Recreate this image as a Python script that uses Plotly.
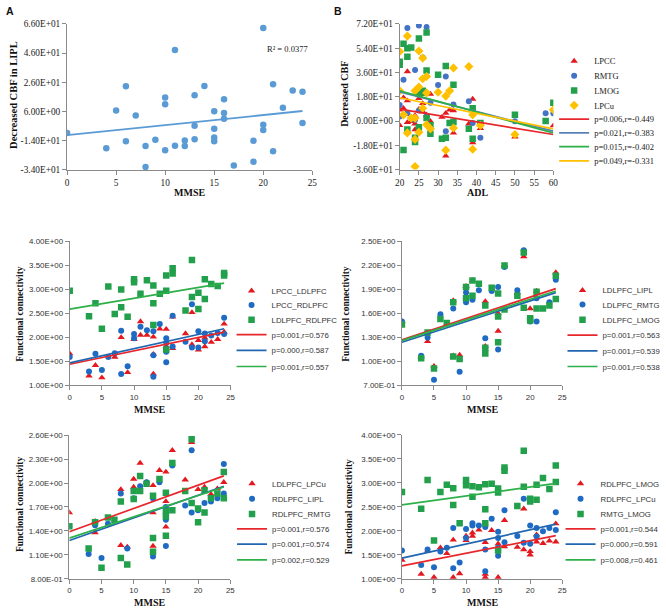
import plotly.graph_objects as go

SERIF = "Liberation Serif, Times New Roman, serif"
SANS = "Liberation Sans, Arial, sans-serif"

# ---------------- Panel A : Decreased CBF in LIPL vs MMSE ----------------
A_x = [0, 4, 5, 6, 6, 7, 8, 8, 9, 10, 10, 10, 11, 11, 12, 12, 13, 13, 13, 14,
       15, 15, 15, 15, 16, 16, 16, 17, 19, 19, 20, 20, 20, 21, 21, 22, 23, 24, 24]
A_y = [-8.6, -19.2, 6.7, 23.3, -14.4, 3.3, -17.6, -32, -13.3, 15.7, 11, -20.5, 48.2, -17.4,
       -13.8, -17.6, 17.2, -3.7, -12.9, 23.5, 6.2, -5.7, -11.8, -14.4, 14.5, 5.1, 1.1, -31,
       -28.4, -14, 63.3, -3, -6.6, 24.7, -21.2, 8.7, 20.4, 19.5, -1.9]
A_fit = (-10.2, 6.4)          # trend-line value at the first and last x
A_r2 = "R² = 0.0377"

# ---------------- Panel B : Decreased CBF vs ADL ----------------
B_names = ["LPCC", "RMTG", "LMOG", "LPCu"]
B_x_LPCC = [20, 20, 21, 21, 22, 22, 22, 23, 24, 24, 24, 25, 25, 26, 26, 27, 28, 28, 31, 32,
            32, 33, 34, 34, 38, 39, 39, 41, 50, 60]
B_y_LPCC = [8.3, -3.2, 17.3, 9.5, 36.7, 15.1, -1, -0.2, 4.1, -2, -6.3, 16.8, 8.8, 7, 13.1, 4.6,
            20, -0.2, 2.9, 5.8, -25.8, 8.3, 7.8, -8.8, -2, 16.3, -16, -5.4, -11.7, -3.4]
B_x_RMTG = [20, 20, 21, 22, 22, 24, 24, 25, 25, 26, 27, 27, 28, 30, 32, 32, 34, 38, 39, 41,
            50, 58, 60]
B_y_RMTG = [12, 3.4, 30.6, 69.1, 5.8, 37.9, 1, 70.8, 7.8, 47.2, 69.8, 3.4, 13.6, 26.8, 33.1,
            -7.5, 12.2, 14.6, -1.5, -12.4, -0.2, 5.8, 5.8]
B_x_LMOG = [20, 20, 21, 21, 22, 22, 22, 23, 24, 24, 25, 25, 25, 26, 26, 27, 27, 27, 28, 28,
            30, 31, 32, 32, 33, 34, 34, 38, 39, 39, 41, 50, 58, 60]
B_y_LMOG = [44, 41.8, 57.4, -21.4, 47.7, 54, -6.3, 54.5, -12.4, -15.6, 61.3, -4.6, 20, 21,
            22.4, 65.7, 37.5, 2.2, -3.2, -9.5, 34.3, -13.1, -12.4, 40.9, -1.5, 27, -0.7, -5.8,
            9.5, -13.1, -1.5, 4.6, 0, 13.6]
B_x_LPCu = [20, 20, 21, 22, 22, 23, 24, 24, 24, 24, 25, 25, 25, 26, 26, 26, 27, 27, 27, 28,
            30, 32, 32, 33, 34, 34, 38, 39, 39, 41, 50, 60]
B_y_LPCu = [51.6, 22.4, 4.6, 63, -8.8, 2.2, 22.4, 2.2, -13.6, -33.8, 52, 25.3, -8.3, 46.7,
            31.4, 9.5, 33.1, 20.9, -2.7, -5.8, 21.4, 18.5, -21.6, 22.4, 39.4, -5.1, 40.4, 4.6,
            -20.9, -3.2, -10, 8.3]
B_fit_labels = ["p=0.006,r=-0.449", "p=0.021,r=-0.383", "p=0.015,r=-0.402", "p=0.049,r=-0.331"]
B_fits = [(8.8, -10.0), (21.6, -7.5), (22.4, -8.8), (17.3, -5.8)]

# ---------------- Panel C ----------------
C_names = ["LPCC_LDLPFC", "LPCC_RDLPFC", "LDLPFC_RDLPFC"]
C_x1 = [0, 3, 4, 5, 7, 8, 9, 10, 11, 11, 12, 13, 13, 13, 14, 15, 15, 16, 16, 18,
        19, 19, 20, 20, 21, 21, 22, 23, 24, 24]
C_y1 = [1.66, 1.20, 1.42, 1.16, 1.59, 2.00, 1.27, 1.96, 2.33, 2.05, 2.05, 2.01, 1.24, 1.65,
        2.18, 2.17, 1.82, 1.77, 2.43, 2.08, 1.85, 2.52, 1.74, 1.94, 1.81, 1.99, 1.90, 1.96,
        2.28, 2.11]
C_x2 = [0, 3, 4, 5, 6, 7, 8, 8, 9, 10, 10, 11, 12, 13, 13, 13, 14, 15, 15, 15, 15, 16, 16,
        18, 19, 19, 20, 20, 21, 21, 22, 23, 24, 24]
C_y2 = [1.59, 1.29, 1.66, 1.32, 1.59, 1.67, 2.14, 1.24, 1.40, 2.07, 1.98, 2.22, 2.15, 2.13,
        1.63, 1.18, 2.28, 1.98, 1.89, 1.70, 1.48, 2.45, 1.81, 1.91, 2.69, 1.79, 2.13, 1.79,
        2.08, 1.92, 2.04, 2.09, 2.41, 2.07]
C_x3 = [0, 3, 4, 5, 6, 7, 8, 8, 9, 10, 10, 11, 12, 13, 13, 13, 14, 15, 15, 15, 16, 16, 18,
        19, 19, 20, 20, 21, 21, 22, 23, 24, 24]
C_y3 = [2.97, 2.44, 2.71, 2.18, 3.06, 2.49, 3.00, 2.63, 2.43, 3.21, 3.15, 2.91, 3.19, 3.08,
        2.71, 2.26, 2.91, 3.29, 2.97, 1.75, 3.44, 3.33, 2.56, 3.61, 2.84, 2.93, 2.59, 3.21,
        2.80, 3.11, 3.07, 3.34, 3.29]
C_fit_labels = ["p=0.001,r=0.576", "p=0.000,r=0.587", "p=0.001,r=0.557"]
C_fits = [(1.44, 2.11), (1.47, 2.18), (2.59, 3.13)]

# ---------------- Panel D ----------------
D_names = ["LDLPFC_LIPL", "LDLPFC_RMTG", "LDLPFC_LMOG"]
D_x1 = [0, 3, 4, 5, 7, 8, 8, 9, 10, 11, 13, 13, 15, 15, 16, 18, 19, 20, 21, 24]
D_y1 = [1.50, 1.06, 1.25, 0.94, 1.47, 1.76, 1.07, 1.08, 1.94, 2.01, 1.75, 1.19, 1.60, 1.38,
        2.20, 1.86, 2.31, 1.66, 1.88, 2.11]
D_x2 = [0, 3, 4, 5, 6, 8, 9, 10, 10, 11, 12, 13, 14, 15, 15, 16, 18, 19, 20, 21, 21, 23, 24]
D_y2 = [1.50, 1.07, 1.30, 0.77, 1.59, 1.66, 0.87, 1.86, 1.74, 1.77, 1.89, 1.29, 1.88, 1.93,
        1.15, 2.18, 1.89, 2.39, 1.50, 1.50, 1.79, 1.74, 2.02]
D_x3 = [0, 3, 4, 5, 6, 7, 8, 8, 9, 10, 10, 11, 11, 12, 13, 13, 13, 14, 15, 15, 15, 16, 16,
        18, 19, 19, 20, 20, 21, 21, 22, 23, 24, 24]
D_y3 = [1.46, 1.04, 1.36, 0.91, 1.53, 1.48, 1.74, 1.06, 1.03, 1.93, 1.79, 2.01, 1.82, 1.97,
        1.70, 1.17, 1.10, 1.92, 1.85, 1.56, 1.24, 2.20, 1.65, 1.82, 2.36, 1.67, 1.54, 1.51,
        1.87, 1.66, 1.66, 1.70, 2.07, 1.78]
D_fit_labels = ["p=0.001,r=0.563", "p=0.001,r=0.539", "p=0.001,r=0.538"]
D_fits = [(1.27, 1.91), (1.24, 1.86), (1.26, 1.88)]

# ---------------- Panel E ----------------
E_names = ["LDLPFC_LPCu", "RDLPFC_LIPL", "RDLPFC_RMTG"]
E_x1 = [0, 4, 4, 8, 8, 9, 10, 10, 11, 12, 13, 13, 13, 14, 15, 15, 15, 16, 18, 19, 20, 21,
        22, 23, 24]
E_y1 = [1.63, 1.38, 1.52, 1.22, 1.92, 1.20, 2.05, 1.95, 2.25, 2.01, 1.97, 1.63, 1.21, 2.16,
        2.14, 1.77, 1.45, 2.41, 2.04, 2.51, 1.92, 1.95, 1.86, 1.93, 2.01]
E_x2 = [0, 3, 4, 5, 6, 8, 9, 10, 11, 12, 13, 13, 14, 15, 15, 15, 16, 18, 19, 19, 20, 21,
        22, 23, 24, 24]
E_y2 = [1.46, 1.11, 1.47, 1.06, 1.49, 1.87, 1.18, 1.81, 1.96, 2.01, 1.81, 1.08, 2.01, 1.70,
        1.54, 1.21, 2.22, 1.72, 2.41, 1.63, 1.66, 1.75, 1.77, 1.81, 2.24, 1.87]
E_x3 = [0, 3, 4, 5, 6, 7, 8, 8, 9, 10, 10, 11, 11, 12, 13, 13, 13, 14, 15, 15, 15, 15, 16,
        16, 18, 19, 19, 20, 20, 21, 21, 22, 23, 24, 24]
E_y3 = [1.46, 1.18, 1.51, 0.94, 1.57, 1.54, 1.77, 1.06, 0.98, 1.90, 1.80, 2.09, 1.90, 1.99,
        1.84, 1.31, 1.14, 2.05, 1.88, 1.65, 1.58, 1.34, 2.25, 1.66, 1.90, 2.55, 1.75, 1.68,
        1.51, 1.91, 1.63, 1.81, 1.87, 2.14, 1.81]
E_fit_labels = ["p=0.001,r=0.576", "p=0.001,r=0.574", "p=0.002,r=0.529"]
E_fits = [(1.39, 2.09), (1.28, 1.96), (1.31, 1.95)]

# ---------------- Panel F ----------------
F_names = ["RDLPFC_LMOG", "RDLPFC_LPCu", "RMTG_LMOG"]
F_x1 = [0, 3, 4, 5, 6, 7, 8, 8, 9, 10, 10, 11, 11, 12, 13, 13, 13, 14, 15, 15, 16, 16, 18,
        19, 19, 20, 20, 21, 21, 22, 23, 24, 24]
F_y1 = [1.39, 1.10, 1.58, 1.03, 1.65, 1.53, 1.81, 1.03, 1.11, 1.89, 1.80, 1.96, 1.89, 2.02,
        1.76, 1.10, 1.03, 2.01, 1.73, 1.03, 2.22, 1.67, 1.66, 2.46, 1.61, 1.57, 1.50, 1.92,
        1.77, 1.74, 1.79, 2.15, 1.77]
F_x2 = [0, 3, 4, 5, 6, 7, 8, 8, 9, 10, 10, 11, 11, 12, 13, 13, 13, 14, 15, 15, 15, 15, 16,
        16, 18, 19, 19, 20, 20, 21, 21, 22, 23, 24, 24]
F_y2 = [1.59, 1.29, 1.61, 1.24, 1.57, 1.65, 2.06, 1.22, 1.34, 1.85, 2.04, 2.16, 2.11, 2.11,
        2.08, 1.61, 1.16, 2.25, 1.98, 1.85, 1.65, 1.48, 2.43, 1.76, 1.89, 2.67, 1.75, 2.11,
        1.73, 2.06, 1.88, 1.99, 2.06, 2.39, 2.02]
F_x3 = [0, 3, 4, 5, 6, 7, 8, 8, 9, 10, 10, 11, 11, 12, 13, 13, 13, 14, 15, 15, 15, 16, 16,
        18, 19, 19, 20, 20, 21, 21, 22, 23, 24, 24]
F_y3 = [2.81, 2.46, 3.06, 1.80, 2.81, 2.96, 2.89, 2.54, 2.16, 3.06, 2.95, 2.93, 2.71, 2.91,
        2.97, 2.45, 2.16, 2.98, 2.88, 2.80, 1.59, 3.32, 3.25, 2.52, 3.67, 2.92, 2.67, 2.61,
        2.96, 2.65, 3.10, 2.87, 3.36, 3.02]
F_fit_labels = ["p=0.001,r=0.544", "p=0.000,r=0.591", "p=0.008,r=0.461"]
F_fits = [(1.27, 1.90), (1.43, 2.14), (2.54, 2.99)]

# ---------------- tick values ----------------
MMSE_ticks = [0, 5, 10, 15, 20, 25]
ADL_ticks = [20, 25, 30, 35, 40, 45, 50, 55, 60]
A_yticks = [-34, -14, 6, 26, 46, 66]
B_yticks = [-36, -18, 0, 18, 36, 54, 72]
C_yticks = [1.0, 1.5, 2.0, 2.5, 3.0, 3.5, 4.0]
D_yticks = [0.7, 1.0, 1.3, 1.6, 1.9, 2.2, 2.5]
E_yticks = [0.8, 1.1, 1.4, 1.7, 2.0, 2.3, 2.6]
F_yticks = [1.0, 1.5, 2.0, 2.5, 3.0, 3.5, 4.0]

# ---------------- styling ----------------
W, H = 666, 615
def fx(p):
    return p / W
def fy(p):
    return 1 - p / H

MK_RED, MK_BLUE, MK_GREEN = "#E3191F", "#1F6BC4", "#22A04B"
LN_RED, LN_BLUE, LN_GREEN = "#E8272C", "#2166B0", "#2DB04A"
B_MK = ["#E3191F", "#4472C4", "#22A04B", "#FFC000"]
B_LN = ["#E8272C", "#5A80B8", "#2DB04A", "#FFC000"]
SYMS = ["triangle-up", "circle", "square", "diamond"]
SIZES = [6.5, 6, 6.5, 7]
AXCOL = "#8a8a8a"
LEG_OFFSET = 37              # legend box left edge -> text start is 40 px; shift 3 px right

fig = go.Figure()
legend_count = [0]
legend_layout = {}


def new_legend(text_x_px, y_px, font):
    legend_count[0] += 1
    n = legend_count[0]
    key = "legend" if n == 1 else f"legend{n}"
    legend_layout[key] = dict(
        x=fx(text_x_px - LEG_OFFSET), y=fy(y_px), xanchor="left", yanchor="middle",
        bgcolor="rgba(0,0,0,0)", borderwidth=0, font=font, itemwidth=30,
        tracegroupgap=0, itemclick=False, itemdoubleclick=False)
    return key


def add_panel(ax, series, names, fits, fit_labels, mk_cols, ln_cols, leg_text_x, leg_ys, leg_font):
    xa = "x" if ax == 1 else f"x{ax}"
    ya = "y" if ax == 1 else f"y{ax}"
    k = 0
    for i, (xs, ys) in enumerate(series):
        key = new_legend(leg_text_x, leg_ys[k], leg_font)
        k += 1
        fig.add_trace(go.Scatter(
            x=xs, y=ys, mode="markers", name=names[i], xaxis=xa, yaxis=ya, legend=key,
            marker=dict(symbol=SYMS[i], size=SIZES[i], color=mk_cols[i], line=dict(width=0))))
    for i, (xs, ys) in enumerate(series):
        key = new_legend(leg_text_x, leg_ys[k], leg_font)
        k += 1
        x0, x1 = min(xs), max(xs)
        fig.add_trace(go.Scatter(
            x=[x0, x1], y=[fits[i][0], fits[i][1]], mode="lines", name=fit_labels[i],
            xaxis=xa, yaxis=ya, legend=key, line=dict(color=ln_cols[i], width=1.7)))


# Panel A (no legend)
fig.add_trace(go.Scatter(x=A_x, y=A_y, mode="markers", xaxis="x", yaxis="y", showlegend=False,
                         marker=dict(symbol="circle", size=6.5, color="#5B9BD5")))
fig.add_trace(go.Scatter(x=[min(A_x), max(A_x)], y=list(A_fit), mode="lines", xaxis="x", yaxis="y",
                         showlegend=False, line=dict(color="#5B9BD5", width=1.8)))

serif_leg = dict(family=SERIF, size=8.5, color="#222")
sans_leg = dict(family=SANS, size=7.8, color="#333")

add_panel(2, [(B_x_LPCC, B_y_LPCC), (B_x_RMTG, B_y_RMTG), (B_x_LMOG, B_y_LMOG), (B_x_LPCu, B_y_LPCu)],
          B_names, B_fits, B_fit_labels, B_MK, B_LN, 594.5,
          [57, 72, 87, 102, 116, 130, 144, 158.5], serif_leg)
MK3 = [MK_RED, MK_BLUE, MK_GREEN]
LN3 = [LN_RED, LN_BLUE, LN_GREEN]
add_panel(3, [(C_x1, C_y1), (C_x2, C_y2), (C_x3, C_y3)], C_names, C_fits, C_fit_labels,
          MK3, LN3, 267, [290.5, 305, 320, 335, 351, 367.5], sans_leg)
add_panel(4, [(D_x1, D_y1), (D_x2, D_y2), (D_x3, D_y3)], D_names, D_fits, D_fit_labels,
          MK3, LN3, 603, [290, 304.5, 320, 335.5, 351.5, 367.5], sans_leg)
add_panel(5, [(E_x1, E_y1), (E_x2, E_y2), (E_x3, E_y3)], E_names, E_fits, E_fit_labels,
          MK3, LN3, 267.5, [486.5, 502, 517.5, 532.5, 548, 564], sans_leg)
add_panel(6, [(F_x1, F_y1), (F_x2, F_y2), (F_x3, F_y3)], F_names, F_fits, F_fit_labels,
          MK3, LN3, 601, [486.5, 502, 517.5, 532.5, 548, 564], sans_leg)


def axis_pair(xd, yd, xr, yr, xt, yt, font):
    common = dict(showline=True, linecolor=AXCOL, linewidth=1, ticks="outside", ticklen=4,
                  tickcolor=AXCOL, tickwidth=1, showgrid=False, zeroline=False,
                  tickfont=font, fixedrange=True)
    xaxis = dict(domain=[fx(xd[0]), fx(xd[1])], range=xr, tickvals=xt,
                 ticktext=[str(v) for v in xt], **common)
    yaxis = dict(domain=[fy(yd[1]), fy(yd[0])], range=yr, tickvals=yt,
                 ticktext=[f"{v:.2E}" for v in yt], **common)
    return xaxis, yaxis


serif_tick = dict(family=SERIF, size=9.3, color="#1a1a1a")
sans_tick = dict(family=SANS, size=7.9, color="#333")

axes_spec = [
    ((63, 312), (19.3, 167.7), [0, 25], [-34, 66], MMSE_ticks, A_yticks, serif_tick),
    ((400.7, 556.7), (19.3, 167.3), [20, 60], [-36, 72], ADL_ticks, B_yticks, serif_tick),
    ((65.7, 229), (240.3, 386.7), [0, 25], [1.0, 4.0], MMSE_ticks, C_yticks, sans_tick),
    ((403, 565.7), (240.3, 386.7), [0, 25], [0.7, 2.5], MMSE_ticks, D_yticks, sans_tick),
    ((65.3, 228.7), (437.3, 583.3), [0, 25], [0.8, 2.6], MMSE_ticks, E_yticks, sans_tick),
    ((403, 565.7), (437, 583.3), [0, 25], [1.0, 4.0], MMSE_ticks, F_yticks, sans_tick),
]
layout_axes = {}
for i, spec in enumerate(axes_spec, start=1):
    xa, ya = axis_pair(*spec)
    xk = "xaxis" if i == 1 else f"xaxis{i}"
    yk = "yaxis" if i == 1 else f"yaxis{i}"
    xa["anchor"] = "y" if i == 1 else f"y{i}"
    ya["anchor"] = "x" if i == 1 else f"x{i}"
    layout_axes[xk] = xa
    layout_axes[yk] = ya

title_font = dict(family=SERIF, size=10, color="#111")
annots = []


def ann(text, x_px, y_px, font, angle=0):
    annots.append(dict(text=text, x=fx(x_px), y=fy(y_px), xref="paper", yref="paper",
                       showarrow=False, xanchor="center", yanchor="middle", textangle=angle,
                       font=font))


ann("<b>Decreased CBF in LIPL</b>", 8.5, 91, dict(family=SERIF, size=10.5, color="#111"), -90)
ann("<b>MMSE</b>", 187, 190.5, title_font)
ann("<b>Decreased CBF</b>", 344.5, 90, title_font, -90)
ann("<b>ADL</b>", 479.5, 190.5, title_font)
ann("<b>Functional connectivity</b>", 15, 314, dict(family=SERIF, size=9.5, color="#111"), -90)
ann("<b>MMSE</b>", 147, 411, title_font)
ann("<b>Functional connectivity</b>", 346, 314, dict(family=SERIF, size=9.5, color="#111"), -90)
ann("<b>MMSE</b>", 485, 411, title_font)
ann("<b>Functional connectivity</b>", 14.5, 507, dict(family=SERIF, size=9.5, color="#111"), -90)
ann("<b>MMSE</b>", 147, 607, title_font)
ann("<b>Functional connectivity</b>", 349, 510, dict(family=SERIF, size=9.5, color="#111"), -90)
ann("<b>MMSE</b>", 485, 607, title_font)
ann(A_r2, 287, 45, dict(family=SERIF, size=8.5, color="#222"))
ann("<b>A</b>", 5.5, 6, dict(family=SANS, size=10.5, color="#111"))
ann("<b>B</b>", 338, 6, dict(family=SANS, size=10.5, color="#111"))

fig.update_layout(
    width=W, height=H, margin=dict(l=0, r=0, t=0, b=0),
    paper_bgcolor="white", plot_bgcolor="white",
    annotations=annots, hovermode=False,
    **layout_axes, **legend_layout)

# the page body has a default 8px margin; remove it so the figure sits at the window origin
fig.write_html("out.html", config={"displayModeBar": False},
               post_script="document.body.style.margin='0px';"
                           "document.body.style.padding='0px';"
                           "document.body.style.overflow='hidden';")
